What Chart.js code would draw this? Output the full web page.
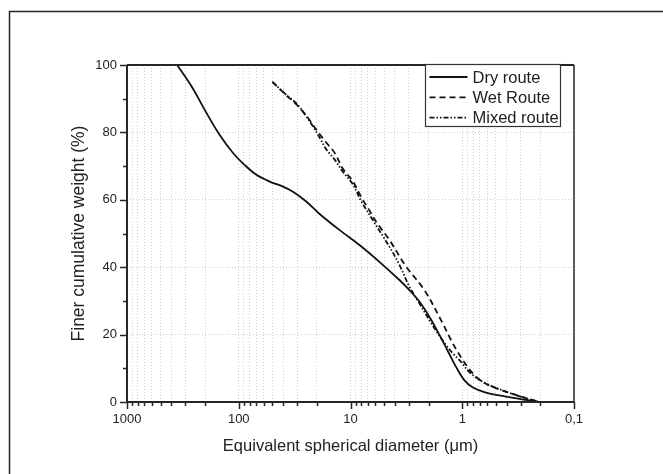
<!DOCTYPE html>
<html>
<head>
<meta charset="utf-8">
<script src="https://cdn.jsdelivr.net/npm/chart.js@4.4.1/dist/chart.umd.min.js"></script>
<style>
    html, body { margin: 0; padding: 0; background: #fff; }
    #contenedor { width: 663px; height: 474px; }
</style>
</head>
<body>
<div id="contenedor"><canvas id="graficoGranulometria" width="663" height="474"></canvas></div>
<script>
// Datos: diámetro (µm) y % acumulado
const dryDiameter = [356, 264, 197, 148, 112, 88.4, 69.5, 52.9, 40.2, 32.7, 24.9, 18.9, 12.5, 8.31, 5.51, 3.65, 2.97, 2.42, 1.97, 1.60, 1.35, 1.14, 0.96, 0.81, 0.614, 0.407, 0.27, 0.205];
const dryFiner = [100, 93.6, 86.1, 79.2, 73.8, 70.3, 67.4, 65.4, 63.9, 62.4, 59.5, 55.8, 51.0, 46.6, 41.6, 36.2, 33.2, 29.8, 25.3, 19.9, 15.2, 10.5, 6.5, 4.4, 2.8, 1.6, 0.6, 0];

const wetDiameter = [50, 37.5, 30.5, 24.9, 21.7, 18.9, 16.5, 13.9, 11.7, 9.53, 8.02, 6.9, 5.9, 4.49, 3.18, 2.18, 1.50, 1.26, 1.10, 0.90, 0.755, 0.62, 0.50, 0.332, 0.205];
const wetFiner = [95, 91, 88.3, 85, 82.2, 79.5, 77, 74, 69.2, 65.5, 60.8, 57.3, 53.5, 48.1, 40.2, 33.2, 23.4, 18.4, 14.9, 10.5, 7.5, 5.5, 4.1, 2.1, 0];

const mixedDiameter = [50, 37.5, 30.5, 24.9, 21.7, 18.9, 16.5, 13.9, 11.7, 9.53, 8.02, 6.32, 4.49, 3.65, 2.97, 2.42, 1.97, 1.72, 1.50, 1.22, 1.03, 0.84, 0.614, 0.407, 0.27, 0.205];
const mixedFiner = [95, 91.1, 88.6, 84.8, 81.8, 78.5, 75, 72, 68.3, 64.6, 59.6, 54, 46.1, 40.7, 34.2, 29.3, 24.3, 21.2, 18.3, 14.5, 12.0, 8.5, 5.5, 3.1, 1.1, 0];

const seriesLabels = ['Dry route', 'Wet Route', 'Mixed route'];

// Marcas del eje x (escala log invertida)
const xMajorTicks = [1000, 100, 10, 1, 0.1];
const xTickLabels = ['1000', '100', '10', '1', '0,1'];
const yMajorTicks = [0, 20, 40, 60, 80, 100];
const yMinorTicks = [10, 30, 50, 70, 90];

// Posiciones de la rejilla menor (2..9 de cada década)
const xGridValues = [];
[0.1, 1, 10, 100].forEach(function(base) {
    for (let m = 1; m < 10; m++) {
        xGridValues.push(Number((base * m).toPrecision(3)));
    }
});
xGridValues.push(1000);

function toPoints(xs, ys) {
    return xs.map((x, i) => ({ x: x, y: ys[i] }));
}

const colorLinea = '#111';
const colorEje = '#262626';

// Marco, marcas de ejes y leyenda dibujados sobre el canvas
const marcoPlugin = {
    id: 'marco',
    afterDraw(chart) {
        const ctx = chart.ctx;
        const area = chart.chartArea;
        const sx = chart.scales.x;
        const sy = chart.scales.y;
        ctx.save();

        // marco exterior de la figura (solo arriba e izquierda)
        ctx.strokeStyle = colorEje;
        ctx.lineWidth = 1.5;
        ctx.beginPath();
        ctx.moveTo(9.5, chart.height);
        ctx.lineTo(9.5, 11.5);
        ctx.lineTo(chart.width, 11.5);
        ctx.stroke();

        // marcas del eje y
        ctx.lineWidth = 1.5;
        ctx.beginPath();
        yMajorTicks.forEach(v => {
            const py = Math.round(sy.getPixelForValue(v)) + 0.5;
            ctx.moveTo(area.left, py);
            ctx.lineTo(area.left - 7, py);
        });
        yMinorTicks.forEach(v => {
            const py = Math.round(sy.getPixelForValue(v)) + 0.5;
            ctx.moveTo(area.left, py);
            ctx.lineTo(area.left - 4, py);
        });
        // marcas del eje x
        xGridValues.forEach(v => {
            const px = Math.round(sx.getPixelForValue(v)) + 0.5;
            const largo = xMajorTicks.indexOf(v) >= 0 ? 7 : 4;
            ctx.moveTo(px, area.bottom);
            ctx.lineTo(px, area.bottom + largo);
        });
        ctx.stroke();

        // bordes del área de trazado
        ctx.lineWidth = 2;
        ctx.beginPath();
        ctx.moveTo(area.left, area.top);
        ctx.lineTo(area.left, area.bottom);
        ctx.lineTo(area.right, area.bottom);
        ctx.moveTo(area.left, area.top);
        ctx.lineTo(area.right, area.top);
        ctx.stroke();
        ctx.lineWidth = 1.5;
        ctx.beginPath();
        ctx.moveTo(area.right, area.top);
        ctx.lineTo(area.right, area.bottom);
        ctx.stroke();

        // leyenda dentro del área, arriba a la derecha
        const caja = { x: area.right - 148.5, y: area.top - 0.5, w: 135, h: 62 };
        ctx.fillStyle = '#fff';
        ctx.fillRect(caja.x, caja.y, caja.w, caja.h);
        ctx.lineWidth = 1.2;
        ctx.strokeStyle = '#333';
        ctx.strokeRect(caja.x, caja.y, caja.w, caja.h);
        ctx.font = "16.5px 'Liberation Sans', Arial, sans-serif";
        ctx.textBaseline = 'middle';
        chart.data.datasets.forEach((ds, i) => {
            const yFila = caja.y + 12.5 + i * 20.3;
            ctx.strokeStyle = ds.borderColor;
            ctx.lineWidth = ds.borderWidth;
            ctx.setLineDash(ds.borderDash || []);
            ctx.beginPath();
            ctx.moveTo(caja.x + 4, yFila);
            ctx.lineTo(caja.x + 42, yFila);
            ctx.stroke();
            ctx.setLineDash([]);
            ctx.fillStyle = '#222';
            ctx.fillText(ds.label, caja.x + 47, yFila + 1);
        });
        ctx.restore();
    }
};

Chart.defaults.font.family = "'Liberation Sans', Arial, sans-serif";
Chart.defaults.color = '#222';

const ctx = document.getElementById('graficoGranulometria').getContext('2d');
const chart = new Chart(ctx, {
    type: 'line',
    data: {
        datasets: [{
            label: seriesLabels[0],
            data: toPoints(dryDiameter, dryFiner),
            borderColor: colorLinea,
            borderWidth: 1.8,
            borderDash: [],
            pointRadius: 0,
            tension: 0.35,
            fill: false
        }, {
            label: seriesLabels[1],
            data: toPoints(wetDiameter, wetFiner),
            borderColor: colorLinea,
            borderWidth: 1.8,
            borderDash: [6, 4],
            pointRadius: 0,
            tension: 0.35,
            fill: false
        }, {
            label: seriesLabels[2],
            data: toPoints(mixedDiameter, mixedFiner),
            borderColor: colorLinea,
            borderWidth: 1.8,
            borderDash: [5, 2, 1.5, 2, 1.5, 2],
            pointRadius: 0,
            tension: 0.35,
            fill: false
        }]
    },
    options: {
        responsive: false,
        animation: false,
        layout: {
            padding: { top: 65, right: 89, left: 0, bottom: 0 }
        },
        plugins: {
            legend: { display: false },
            tooltip: { enabled: false }
        },
        scales: {
            x: {
                type: 'logarithmic',
                reverse: true,
                min: 0.1,
                max: 1000,
                afterBuildTicks: function(scale) {
                    scale.ticks = xGridValues.map(v => ({ value: v }));
                },
                afterFit: function(scale) {
                    scale.height = 72;
                },
                ticks: {
                    autoSkip: false,
                    maxRotation: 0,
                    padding: 10,
                    font: { size: 13 },
                    callback: function(value) {
                        const i = xMajorTicks.indexOf(value);
                        return i >= 0 ? xTickLabels[i] : '';
                    }
                },
                grid: {
                    drawTicks: false,
                    color: '#cfcfcf',
                    lineWidth: 1
                },
                border: { display: false, dash: [1, 2] },
                title: {
                    display: true,
                    text: 'Equivalent spherical diameter (\u03bcm)',
                    font: { size: 16.5 },
                    padding: { top: 0, bottom: 18 }
                }
            },
            y: {
                min: 0,
                max: 100,
                afterFit: function(scale) {
                    scale.width = 127;
                },
                ticks: {
                    stepSize: 20,
                    padding: 10,
                    font: { size: 13 }
                },
                grid: {
                    drawTicks: false,
                    color: function(c) {
                        const v = c.tick ? c.tick.value : 0;
                        return (v > 0 && v < 100) ? '#cfcfcf' : 'rgba(0,0,0,0)';
                    },
                    lineWidth: 1
                },
                border: { display: false, dash: [1, 2] },
                title: {
                    display: true,
                    text: 'Finer cumulative weight (%)',
                    font: { size: 17.5 },
                    padding: { top: 69, bottom: 0 }
                }
            }
        }
    },
    plugins: [marcoPlugin]
});
</script>
</body>
</html>
